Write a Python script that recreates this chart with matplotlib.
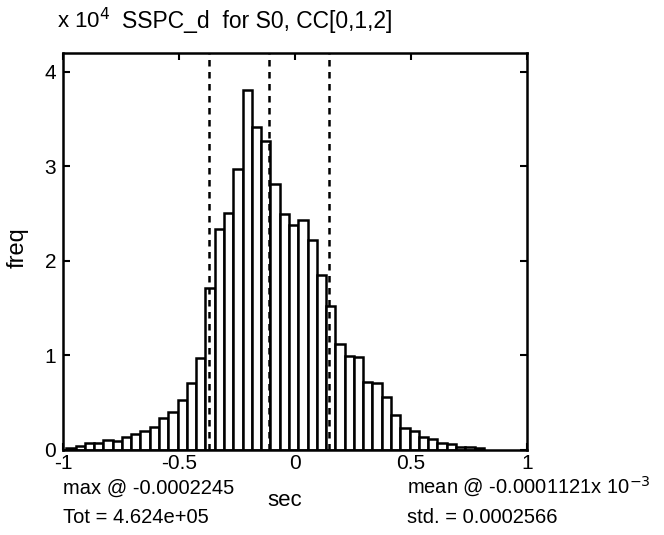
import numpy as np
import matplotlib
matplotlib.use("Agg")
import matplotlib.pyplot as plt

plt.rcParams['font.family'] = ['Liberation Sans', 'DejaVu Sans']

# ---- data (x in units of 1e-3 sec, freq in units of 1e4) ----
bin_start = -0.986
bin_width = 0.04
freq_e4 = [0.02, 0.04, 0.072, 0.072, 0.10, 0.093, 0.129, 0.16, 0.196, 0.24,
           0.337, 0.40, 0.52, 0.70, 0.965, 1.71, 2.34, 2.50, 2.97, 3.81,
           3.416, 3.27, 2.817, 2.49, 2.376, 2.436, 2.224, 1.847, 1.52, 1.116,
           0.99, 0.98, 0.717, 0.707, 0.559, 0.365, 0.224, 0.20, 0.135, 0.107,
           0.065, 0.058, 0.03, 0.025, 0.015]
mean_val = -0.1121
std_val = 0.2566
xticks = [-1, -0.5, 0, 0.5, 1]
xtick_labels = ['-1', '-0.5', '0', '0.5', '1']
yticks = [0, 1, 2, 3, 4]
ytick_labels = ['0', '1', '2', '3', '4']
title_text = 'SSPC_d  for S0, CC[0,1,2]'
max_text = 'max @ -0.0002245'
tot_text = 'Tot = 4.624e+05'
mean_text = 'mean @ -0.0001121'
std_text = 'std. = 0.0002566'

W, H = 664, 535
fig = plt.figure(figsize=(W / 100, H / 100), dpi=100)
L, R, T, B = 63, 527, 53, 449.5
ax = fig.add_axes([L / W, 1 - B / H, (R - L) / W, (B - T) / H])

lefts = bin_start + bin_width * np.arange(len(freq_e4))
ax.bar(lefts, freq_e4, width=bin_width, align='edge', facecolor='white',
       edgecolor='black', linewidth=1.8, zorder=2)

for xv in (mean_val - std_val, mean_val, mean_val + std_val):
    ax.axvline(xv, color='black', linestyle=(0, (2.6, 2.2)), linewidth=1.8, zorder=3)

ax.set_xlim(-1, 1)
ax.set_ylim(0, 4.2)
ax.set_xticks(xticks)
ax.set_xticklabels(xtick_labels)
ax.set_yticks(yticks)
ax.set_yticklabels(ytick_labels)
ax.tick_params(direction='in', top=True, right=True, length=5, width=1.5,
               labelsize=15, pad=5)
ax.tick_params(axis='x', pad=3)
for s in ax.spines.values():
    s.set_linewidth(1.8)

def fx(x):
    return x / W

def fy(y):
    return 1 - y / H

fs = 14.5
fig.text(fx(18), fy(248), 'freq', rotation=90, ha='center', va='center', fontsize=17)
fig.text(fx(57), fy(28), r'x 10$^{4}$', ha='left', va='baseline', fontsize=16)
fig.text(fx(122), fy(28), title_text, ha='left', va='baseline', fontsize=16.5)
fig.text(fx(63), fy(494), max_text, ha='left', va='baseline', fontsize=fs)
fig.text(fx(63), fy(523), tot_text, ha='left', va='baseline', fontsize=fs)
fig.text(fx(285), fy(506), 'sec', ha='center', va='baseline', fontsize=16)
fig.text(fx(407), fy(494), mean_text + r'x 10$^{-3}$', ha='left', va='baseline', fontsize=fs)
fig.text(fx(407), fy(523), std_text, ha='left', va='baseline', fontsize=fs)

fig.savefig('out.png', dpi=100)
